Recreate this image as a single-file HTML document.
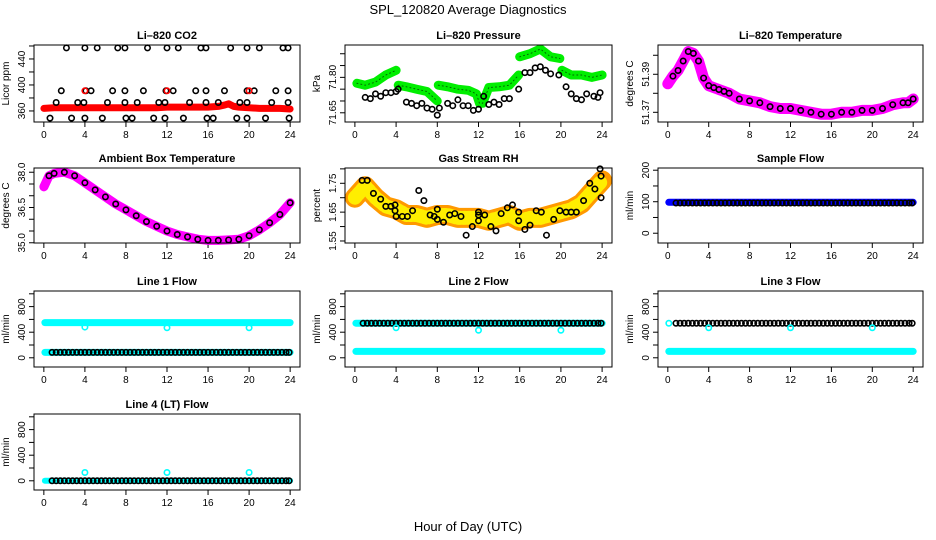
<!DOCTYPE html>
<html><head><meta charset="utf-8"><style>
html,body{margin:0;padding:0;background:#fff}
svg{display:block;font-family:"Liberation Sans",sans-serif}
</style></head><body>
<svg id="c" width="936" height="540" viewBox="0 0 936 540" xmlns="http://www.w3.org/2000/svg">
<text x="468" y="14" text-anchor="middle" font-size="13">SPL_120820  Average Diagnostics</text>
<text x="468" y="531" text-anchor="middle" font-size="13">Hour of Day (UTC)</text>
</svg>
<script>
// ---------- data ----------
const xTicks = [0,4,8,12,16,20,24];
// CO2
const co2BandHours = [0,1,2,3,4,5,6,7,8,9,10,11,12,13,14,15,16,17,17.6,18,18.5,19,20,21,22,23,24];
const co2BandVals  = [364,365,365,365,365,365,365,365,365,365,365,365,366,366,366,366,366,367,369,371,367,366,365,364,364,364,363];
const co2Hours = [2.2,4.0,5.2,7.2,7.9,10.1,12.0,13.1,15.3,15.8,18.2,19.8,21.0,23.3,23.8,
                  1.7,4.1,4.6,6.7,7.9,9.7,11.9,12.6,14.8,15.8,17.6,19.8,20.5,22.6,23.8,
                  1.2,3.3,3.9,6.2,7.9,9.1,11.2,11.8,14.2,15.8,17.0,19.1,19.8,22.2,23.8,
                  0.6,2.7,4.0,5.7,8.0,8.6,10.7,11.8,13.6,15.9,16.5,18.8,19.8,21.6,23.9];
const co2Vals = [457,457,457,457,457,457,457,457,457,457,457,457,457,457,457,
                 391,391,391,391,391,391,391,391,391,391,391,391,391,391,391,
                 373,373,373,373,373,373,373,373,373,373,373,373,373,373,373,
                 349,349,349,349,349,349,349,349,349,349,349,349,349,349,349];
const co2RedHours = [4.0,12.0,20.0];
const co2RedVals = [391,391,391];
// Pressure
const presBandHours = [0.2,1,2,3,4,null,4.2,5,6,7,8,null,8.1,9,10,11,11.8,12.1,12.4,13,14,15,15.9,null,16.0,17,18,19,19.9,null,20.1,21,22,23,24];
const presBandVals  = [71.775,71.767,71.78,71.81,71.83,null,71.767,71.76,71.75,71.74,71.70,null,71.767,71.76,71.75,71.745,71.73,71.69,71.69,71.757,71.76,71.767,71.81,null,71.887,71.90,71.92,71.887,71.88,null,71.83,71.81,71.81,71.80,71.81];
const presHours = [1,1.5,2,2.5,3,3.5,4,4.2,5,5.5,6,6.5,7,7.5,8,8.2,9,9.5,10,10.5,11,11.5,12,12.5,13,13.5,14,14.5,15,15.9,16.5,17,17.5,18,18.5,19,19.8,20.5,21,21.5,22,22.5,23.2,23.6,23.8];
const presVals  = [71.715,71.71,71.73,71.72,71.735,71.735,71.74,71.75,71.695,71.69,71.68,71.69,71.67,71.665,71.64,71.67,71.69,71.68,71.705,71.68,71.68,71.66,71.665,71.72,71.685,71.695,71.685,71.71,71.71,71.75,71.82,71.82,71.84,71.845,71.83,71.815,71.81,71.76,71.73,71.71,71.705,71.73,71.72,71.715,71.735];
// Li-820 temperature
const tempHours = [0,0.5,1,1.5,2,2.5,3,3.5,4,4.5,5,5.5,6,7,8,9,10,11,12,13,14,15,16,17,18,19,20,21,22,23,23.5,24];
const tempVals  = [51.385,51.389,51.392,51.397,51.402,51.401,51.397,51.388,51.384,51.383,51.382,51.381,51.380,51.377,51.376,51.375,51.373,51.372,51.372,51.371,51.370,51.369,51.369,51.370,51.370,51.371,51.371,51.372,51.374,51.375,51.375,51.377];
// Ambient box temperature
const ambHours = [0,0.5,1,2,3,4,5,6,7,8,9,10,11,12,13,14,15,16,17,18,19,20,21,22,23,24];
const ambVals  = [37.38,37.85,37.95,38.0,37.85,37.55,37.25,36.95,36.65,36.4,36.15,35.9,35.7,35.5,35.35,35.25,35.15,35.1,35.1,35.12,35.15,35.3,35.55,35.85,36.2,36.7];
// Gas stream RH
const rhBandHours = [0,1,2,3,4,5,6,7,8,9,10,11,12,13,14,15,16,17,18,19,20,21,22,23,24];
const rhBandVals  = [1.70,1.74,1.70,1.67,1.66,1.64,1.64,1.63,1.64,1.64,1.63,1.63,1.63,1.62,1.63,1.64,1.62,1.63,1.63,1.64,1.65,1.66,1.68,1.72,1.76];
const rhHours = [0.7,1.2,1.8,2.5,3,3.5,3.9,3.9,4,4.6,5.1,5.6,6.2,6.7,7.3,7.7,8,8,8.6,9.2,9.7,10.3,10.8,11.4,12,12,12,12.6,13.2,13.7,14.2,14.8,15.3,15.9,15.9,16.5,17,17.6,18.1,18.6,19.3,19.9,20.5,21,21.5,22.2,22.8,23.3,23.8,23.9,23.9];
const rhVals  = [1.76,1.76,1.715,1.695,1.67,1.67,1.675,1.655,1.635,1.635,1.635,1.655,1.725,1.69,1.64,1.635,1.66,1.625,1.615,1.64,1.645,1.635,1.57,1.60,1.64,1.65,1.62,1.64,1.60,1.585,1.645,1.665,1.675,1.65,1.62,1.59,1.605,1.655,1.65,1.57,1.625,1.655,1.65,1.65,1.65,1.69,1.75,1.73,1.80,1.775,1.70];
// flows
const flowHours = [0.8,1.2,1.6,2.0,2.4,2.8,3.2,3.6,4.0,4.4,4.8,5.2,5.6,6.0,6.4,6.8,7.2,7.6,8.0,8.4,8.8,9.2,9.6,10.0,10.4,10.8,11.2,11.6,12.0,12.4,12.8,13.2,13.6,14.0,14.4,14.8,15.2,15.6,16.0,16.4,16.8,17.2,17.6,18.0,18.4,18.8,19.2,19.6,20.0,20.4,20.8,21.2,21.6,22.0,22.4,22.8,23.2,23.6,23.9];
const bandSpan = [0.1,24];
const sampleBlue = 98, sampleBlack = 96;
const line1Cyan = [550,85], line1Black = 85;
const line2Cyan = [100], line2Top = 540, line2Black = 540;
const line3Cyan = [100], line3Black = 540;
const line4Cyan = [0], line4Black = 0;
const dipHours = [4,12,20];
const line1Dips = [480,470,470];
const line2Dips = [470,430,430];
const line3Dips = [470,470,470];
const line4Dips = [130,130,130];

// ---------- layout ----------
const svg = document.getElementById('c');
const NS = 'http://www.w3.org/2000/svg';
const cols = [[34,300],[345,612],[658,923]];
const rows = [[45,122],[168,243],[291,367],[414,490]];
function mk(tag, attrs, parent){const e=document.createElementNS(NS,tag);for(const k in attrs)e.setAttribute(k,attrs[k]);(parent||svg).appendChild(e);return e;}

function makePanel(id,col,row,title,ylab,ylim,yTicks,yLabels){
  const [l,r]=cols[col],[t,b]=rows[row];
  const g=mk('g',{});
  
  
  const p={g,l,r,t,b,ylim};
  p.x=h=>l+(h+0.96)*((r-l)/25.92);
  p.y=v=>b-(v-ylim[0])/(ylim[1]-ylim[0])*(b-t);
  const tt=mk('text',{x:(l+r)/2,y:t-6,'text-anchor':'middle','font-size':'11','font-weight':'bold'},g);
  tt.textContent=title;
  
  
  const yl=mk('text',{x:0,y:0,'text-anchor':'middle','font-size':'10',transform:`translate(${l-25},${(t+b)/2}) rotate(-90)`},g);
  yl.textContent=ylab;
  
  
  mk('line',{x1:p.x(0),x2:p.x(24),y1:b,y2:b,stroke:'#000'},g);
  xTicks.forEach(h=>{
    mk('line',{x1:p.x(h),x2:p.x(h),y1:b,y2:b+5,stroke:'#000'},g);
    const tx=mk('text',{x:p.x(h),y:b+16,'text-anchor':'middle','font-size':'10'},g);
    tx.textContent=h;
    
    
  });
  yTicks.forEach(v=>mk('line',{x1:l-5,x2:l,y1:p.y(v),y2:p.y(v),stroke:'#000'},g));
  yLabels.forEach(v=>{
    const tx=mk('text',{x:0,y:0,'text-anchor':'middle','font-size':'10',transform:`translate(${l-9},${p.y(v)}) rotate(-90)`},g);
    tx.textContent=v;
    
    
  });
  p.marks=mk('g',{},g);
  const box=mk('rect',{x:l,y:t,width:r-l,height:b-t,fill:'none',stroke:'#000'},g);
  
  
  return p;
}
function band(p,hours,vals,color,w,name,dash){
  let segs=[],cur=[];
  hours.forEach((h,i)=>{ if(h===null){if(cur.length)segs.push(cur);cur=[];} else cur.push(p.x(h).toFixed(1)+','+p.y(vals[i]).toFixed(1)); });
  if(cur.length)segs.push(cur);
  segs.forEach(s=>{
    const a={points:s.join(' '),fill:'none',stroke:color,'stroke-width':w,'stroke-linejoin':'round','stroke-linecap':'round'};
    if(dash)a['stroke-dasharray']=dash;
    const e=mk('polyline',a,p.marks);
    
    
  });
}
function pts(p,hours,vals,color,name,r){
  hours.forEach((h,i)=>{
    const e=mk('circle',{cx:p.x(h),cy:p.y(vals[i]),r:r||2.7,fill:'none',stroke:color,'stroke-width':1.6},p.marks);
    
    
  });
}
function level(p,hours,v,color,name){ pts(p,hours,hours.map(()=>v),color,name); }
function flat(p,v,color,w,name){ band(p,bandSpan,[v,v],color,w,name); }

// CO2
let p=makePanel('co2',0,0,'Li\u2013820 CO2','Licor ppm',[343,461.5],[360,380,400,420,440,460],[360,400,440]);
band(p,co2BandHours,co2BandVals,'#ff0000',7,'co2-band');
pts(p,co2Hours,co2Vals,'#000','co2-point');
pts(p,co2RedHours,co2RedVals,'#ff0000','co2-red-point');
// Pressure
p=makePanel('pressure',1,0,'Li\u2013820 Pressure','kPa',[71.611,71.937],[71.65,71.70,71.75,71.80,71.85,71.90],['71.65','71.80']);
band(p,presBandHours,presBandVals,'#00ee00',9,'pressure-band');
band(p,presBandHours,presBandVals,'#006600',1,'pressure-band-texture','1 3');
pts(p,presHours,presVals,'#000','pressure-point');
// Temperature
p=makePanel('temperature',2,0,'Li\u2013820 Temperature','degrees C',[51.3649,51.4054],[51.37,51.38,51.39,51.40],['51.37','51.39']);
band(p,tempHours,tempVals,'#ff00ff',11,'temperature-band');
pts(p,tempHours.slice(1),tempVals.slice(1),'#000','temperature-point');
// Ambient
p=makePanel('ambient',0,1,'Ambient Box Temperature','degrees C',[34.99,38.18],[35,35.5,36,36.5,37,37.5,38],['35.0','36.5','38.0']);
band(p,ambHours,ambVals,'#ff00ff',9,'ambient-band');
pts(p,ambHours.slice(1),ambVals.slice(1),'#000','ambient-point');
// RH
p=makePanel('rh',1,1,'Gas Stream RH','percent',[1.543,1.803],[1.55,1.60,1.65,1.70,1.75,1.80],['1.55','1.65','1.75']);
band(p,rhBandHours,rhBandVals,'#ff9900',20,'rh-band');
band(p,rhBandHours,rhBandVals,'#ffee00',14,'rh-band-texture','2 3');
pts(p,rhHours,rhVals,'#000','rh-point');
// Sample flow
p=makePanel('sample-flow',2,1,'Sample Flow','ml/min',[-31,207],[0,50,100,150,200],[0,100,200]);
flat(p,sampleBlue,'#0000ff',7,'sample-flow-band');
level(p,flowHours,sampleBlack,'#000','sample-flow-point');
// Line 1
p=makePanel('line1',0,2,'Line 1 Flow','ml/min',[-144,1044],[0,200,400,600,800,1000],[0,400,800]);
line1Cyan.forEach(v=>flat(p,v,'#00ffff',7,'line1-cyan-band'));
level(p,flowHours,line1Black,'#000','line1-point');
pts(p,dipHours,line1Dips,'#00ffff','line1-dip');
// Line 2
p=makePanel('line2',1,2,'Line 2 Flow','ml/min',[-144,1044],[0,200,400,600,800,1000],[0,400,800]);
line2Cyan.forEach(v=>flat(p,v,'#00ffff',7,'line2-cyan-band'));
flat(p,line2Top,'#00ffff',7,'line2-cyan-top');
level(p,flowHours,line2Black,'#000','line2-point');
pts(p,dipHours,line2Dips,'#00ffff','line2-dip');
// Line 3
p=makePanel('line3',2,2,'Line 3 Flow','ml/min',[-144,1044],[0,200,400,600,800,1000],[0,400,800]);
line3Cyan.forEach(v=>flat(p,v,'#00ffff',7,'line3-cyan-band'));
pts(p,[0.1],[line3Black],'#00ffff','line3-start');
level(p,flowHours,line3Black,'#000','line3-point');
pts(p,dipHours,line3Dips,'#00ffff','line3-dip');
// Line 4
p=makePanel('line4',0,3,'Line 4 (LT) Flow','ml/min',[-144,1044],[0,200,400,600,800,1000],[0,400,800]);
line4Cyan.forEach(v=>flat(p,v,'#00ffff',6,'line4-cyan-band'));
level(p,flowHours,line4Black,'#000','line4-point');
pts(p,dipHours,line4Dips,'#00ffff','line4-dip');
</script>
</body></html>
